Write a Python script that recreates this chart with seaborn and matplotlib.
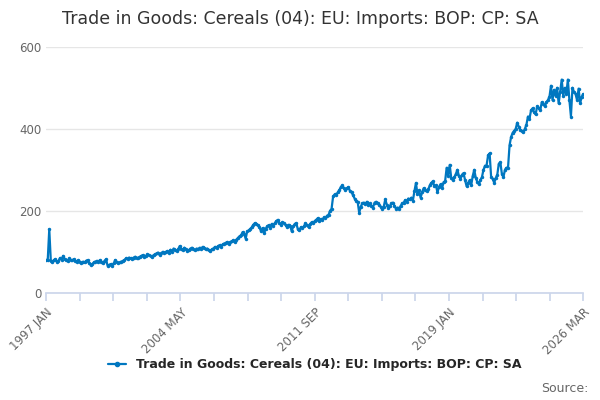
import matplotlib
matplotlib.use('Agg')
import matplotlib.pyplot as plt
import seaborn as sns
import numpy as np
import pandas as pd

TITLE = "Trade in Goods: Cereals (04): EU: Imports: BOP: CP: SA"
START = "1997-01"
TICK_LABELS = ["1997 JAN", "2004 MAY", "2011 SEP", "2019 JAN", "2026 MAR"]

# monthly values, one row per year
v1997 = [80, 80, 155, 78, 76, 80, 82, 75, 78, 85, 80, 90]
v1998 = [82, 80, 78, 84, 80, 79, 82, 78, 76, 80, 75, 72]
v1999 = [76, 74, 78, 80, 72, 68, 70, 74, 76, 78, 74, 80]
v2000 = [76, 72, 78, 82, 66, 68, 70, 66, 72, 80, 74, 72]
v2001 = [74, 76, 78, 80, 84, 82, 86, 84, 82, 86, 88, 84]
v2002 = [86, 88, 90, 92, 88, 90, 94, 92, 90, 88, 92, 94]
v2003 = [96, 98, 92, 96, 100, 98, 100, 102, 98, 105, 100, 108]
v2004 = [104, 102, 106, 114, 108, 104, 110, 106, 102, 104, 108, 110]
v2005 = [106, 104, 108, 106, 110, 108, 112, 110, 106, 108, 104, 102]
v2006 = [106, 108, 112, 110, 114, 116, 112, 118, 120, 122, 124, 120]
v2007 = [124, 126, 128, 124, 130, 134, 138, 140, 148, 144, 132, 150]
v2008 = [152, 156, 160, 166, 170, 168, 165, 160, 150, 158, 145, 156]
v2009 = [162, 165, 158, 168, 164, 170, 175, 178, 170, 166, 172, 170]
v2010 = [165, 160, 166, 164, 150, 162, 168, 170, 155, 152, 160, 158]
v2011 = [162, 170, 165, 160, 168, 172, 170, 175, 178, 182, 176, 180]
v2012 = [178, 184, 182, 188, 190, 200, 205, 235, 240, 238, 245, 250]
v2013 = [258, 262, 255, 250, 255, 258, 248, 245, 238, 230, 225, 222]
v2014 = [195, 210, 218, 220, 216, 222, 215, 218, 212, 208, 220, 222]
v2015 = [218, 214, 210, 205, 210, 228, 215, 206, 212, 218, 220, 212]
v2016 = [205, 208, 204, 212, 218, 220, 226, 222, 230, 228, 232, 225]
v2017 = [248, 268, 240, 250, 232, 245, 255, 250, 248, 252, 262, 268]
v2018 = [272, 260, 262, 245, 258, 265, 255, 270, 272, 305, 285, 312]
v2019 = [280, 275, 282, 290, 300, 285, 278, 288, 292, 275, 260, 268]
v2020 = [275, 262, 285, 300, 280, 270, 265, 275, 282, 300, 310, 310]
v2021 = [335, 340, 282, 278, 268, 280, 288, 315, 318, 290, 282, 300]
v2022 = [305, 305, 360, 380, 390, 395, 400, 415, 405, 398, 395, 392]
v2023 = [400, 410, 430, 425, 445, 450, 440, 435, 455, 450, 445, 465]
v2024 = [460, 455, 465, 470, 478, 505, 470, 495, 480, 500, 462, 490]
v2025 = [520, 480, 500, 485, 520, 470, 430, 500, 490, 485, 470, 498]
v2026 = [462, 478, 485]

values = (v1997 + v1998 + v1999 + v2000 + v2001 + v2002 + v2003 + v2004 + v2005
          + v2006 + v2007 + v2008 + v2009 + v2010 + v2011 + v2012 + v2013 + v2014
          + v2015 + v2016 + v2017 + v2018 + v2019 + v2020 + v2021 + v2022 + v2023
          + v2024 + v2025 + v2026)

df = pd.DataFrame({"i": np.arange(len(values)), "value": values})
n = len(values)

sns.set_theme(style="white")
plt.rcParams['font.family'] = ['DejaVu Sans']
BLUE = "#0077c0"

fig, ax = plt.subplots(figsize=(6, 4), dpi=100)
fig.subplots_adjust(left=0.077, right=0.972, top=0.883, bottom=0.268)
sns.lineplot(data=df, x="i", y="value", ax=ax, color=BLUE, linewidth=1.6,
             marker="o", markersize=2.5, markeredgewidth=0)

ax.set_xlim(0, n - 1)
ax.set_ylim(0, 600)
ax.set_yticks([0, 200, 400, 600])
ax.yaxis.grid(True, color="#e6e6e6", linewidth=1)
ax.set_xlabel("")
ax.set_ylabel("")
for s in ["top", "right", "left"]:
    ax.spines[s].set_visible(False)
ax.spines["bottom"].set_color("#ccd6eb")

minor = np.linspace(0, n - 1, 17)
ax.set_xticks(minor)
ax.set_xticklabels([TICK_LABELS[k // 4] if k % 4 == 0 else "" for k in range(17)],
                   rotation=45, ha="right", rotation_mode="anchor", fontsize=8.5, color="#666666")
ax.tick_params(axis="x", length=6, color="#ccd6eb", bottom=True, direction="out")
ax.tick_params(axis="y", labelsize=8.5, labelcolor="#666666", length=0)

fig.suptitle(TITLE, fontsize=12.5, color="#333333", y=0.975)
ax.legend(handles=[plt.Line2D([], [], color=BLUE, marker="o", markersize=3, linewidth=1.6)],
          labels=[TITLE], loc="upper center", bbox_to_anchor=(0.5, -0.22), frameon=False,
          prop={"weight": "bold", "size": 9}, handlelength=1.5)
fig.text(0.98, 0.02, "Source:", ha="right", fontsize=9, color="#666666")

fig.savefig("out.png", dpi=100, facecolor="white")
